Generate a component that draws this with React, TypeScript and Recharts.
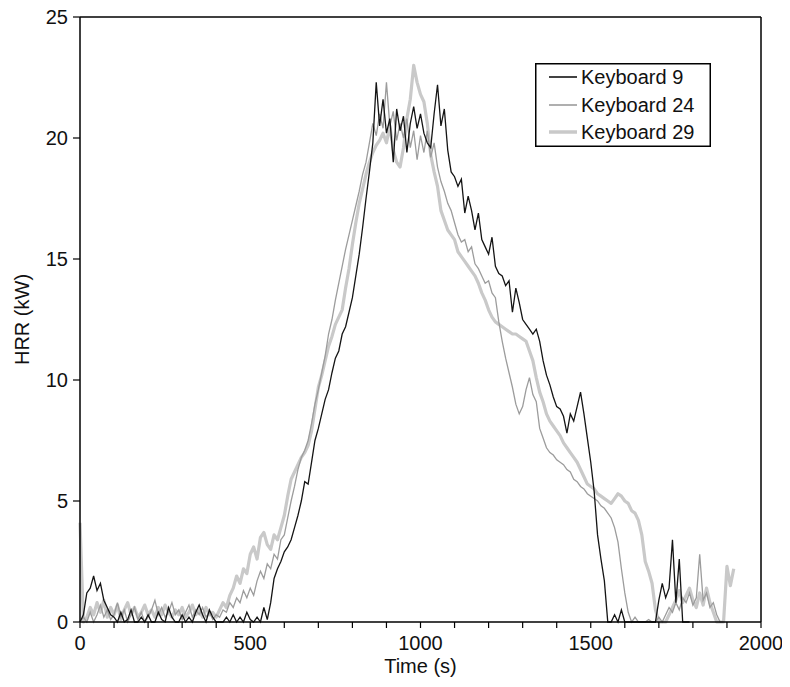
import React from 'react';
import { LineChart, Line, XAxis, YAxis, ReferenceLine, Label } from 'recharts';

// Time axis: one sample every 10 s, 0 .. 2000 s
const TIME_STEP = 10;
const X_TICKS = [0, 100, 200, 300, 400, 500, 600, 700, 800, 900, 1000, 1100, 1200, 1300, 1400, 1500, 1600, 1700, 1800, 1900, 2000];
const X_LABELED = [0, 500, 1000, 1500, 2000];
const Y_TICKS = [0, 5, 10, 15, 20, 25];

const SERIES_NAMES = ['Keyboard 9', 'Keyboard 24', 'Keyboard 29'];

// Keyboard 9 (black)
const keyboard9: (number | null)[] = [
  0, 0.3, 1.2, 1.4, 1.9, 1.3, 1.6, 0.9, 0.6, 0.3,
  0.2, 0, 0.4, 0, 0.1, 0.5, 0, 0, 0.2, 0,
  0.3, 0, 0, 0.4, 0.1, 0, 0.6, 0.2, 0, 0,
  0.3, 0, 0.2, 0, 0.4, 0.7, 0.3, 0, 0.5, 0.2,
  0, 0, 0, 0.2, 0, 0.3, 0, 0.2, 0, 0.4,
  0.1, 0, 0.2, 0, 0.6, 0.1, 0.8, 1.8, 2.2, 2.5,
  2.9, 3.1, 3.4, 3.9, 4.4, 5.0, 5.8, 5.7, 6.6, 7.5,
  8.0, 8.6, 9.2, 9.6, 10.3, 10.9, 11.2, 11.9, 12.2, 12.8,
  13.4, 14.3, 15.2, 16.3, 17.5, 18.6, 19.8, 22.3, 20.5, 21.6,
  20.2, 20.8, 19.0, 21.2, 20.3, 20.9, 19.4, 20.6, 21.3, 20.4,
  21.0, 20.2, 19.8, 19.6, 21.0, 22.2, 20.5, 21.2, 19.5, 18.6,
  18.4, 18.0, 18.3, 16.9, 17.6, 17.0, 16.2, 16.9, 15.8, 15.5,
  15.2, 15.9, 14.7, 14.4, 14.3, 13.9, 14.1, 12.8, 13.8, 13.2,
  12.5, 12.3, 12.1, 11.9, 12.1, 11.6, 10.8, 10.2, 9.8, 9.3,
  8.9, 8.8, 8.5, 7.8, 8.6, 8.3, 8.9, 9.5, 8.6, 7.6,
  6.6, 5.4, 3.6, 2.6, 1.7, 0, 0, 0.3, 0, 0.5,
  0, 0, 0, 0, 0, 0, 0, 0, 0, 0,
  0.9, 1.6, 1.0, 1.4, 3.4, 0.8, 2.6, 0, 0, 0,
];

// Keyboard 24 (medium grey)
const keyboard24: (number | null)[] = [
  0, 0.2, 0, 0.4, 0, 0.3, 0.7, 0.2, 0.5, 0.1,
  0.3, 0.8, 0.2, 0.5, 0, 0.3, 0.6, 0.1, 0.4, 0,
  0.2, 0.5, 0.9, 0.3, 0.6, 0.2, 0.4, 0.8, 0.3, 0.5,
  0.1, 0.4, 0.7, 0.2, 0.5, 0.3, 0.6, 0.2, 0.4, 0.1,
  0.3, 0.2, 0.5, 0.4, 0.8, 0.6, 1.0, 0.8, 1.3, 1.0,
  1.4, 1.1, 1.7, 2.1, 1.8, 2.4, 2.2, 2.8, 2.6, 3.4,
  3.6, 4.3, 5.0, 5.6, 6.3, 6.8, 7.1, 7.5, 8.2, 9.0,
  9.6, 10.3, 11.0, 11.9, 12.5, 13.3, 14.0, 14.7, 15.4, 16.0,
  16.6, 17.2, 17.8, 18.5, 19.0, 19.8, 20.6, 20.1, 21.0, 20.4,
  22.3, 20.5, 21.1, 19.9, 20.6, 20.0, 20.8, 19.6, 20.3, 19.1,
  20.1, 19.4, 20.3, 19.2, 19.8, 18.8, 18.2, 17.8, 17.3, 17.0,
  16.5, 16.0, 15.7, 15.8, 15.3, 15.5, 14.8, 14.6, 14.3, 14.0,
  14.1, 13.6, 13.4, 12.4, 11.6, 10.9, 10.3, 9.7, 9.0, 8.6,
  8.9, 9.6, 10.1, 9.4, 9.1, 8.0, 7.6, 7.2, 7.0, 6.9,
  6.7, 6.6, 6.5, 6.3, 6.2, 5.9, 5.8, 5.6, 5.5, 5.3,
  5.2, 5.1, 5.0, 4.8, 4.7, 4.5, 4.3, 3.9, 3.3, 2.2,
  1.2, 0.4, 0, 0.2, 0, 0, 0, 0.1, 0, 0,
  0.2, 0, 0.3, 0.6, 0.4, 0.8, 0.5, 1.0, 0.8, 1.2,
  0.7, 1.0, 2.8, 0.9, 1.2, 0.6, 0.8, 0.3, 0, 0,
];

// Keyboard 29 (light grey, thick)
const keyboard29: (number | null)[] = [
  4.1, 0, 0.2, 0.6, 0.3, 0.8, 0.4, 0.9, 0.2, 0.6,
  0.3, 0.7, 0.1, 0.5, 0.8, 0.3, 0.6, 0.2, 0.4, 0.7,
  0.3, 0.5, 0.2, 0.6, 0.3, 0.7, 0.4, 0.2, 0.5, 0.3,
  0.6, 0.2, 0.4, 0.7, 0.3, 0.5, 0.2, 0.6, 0.3, 0.4,
  0.2, 0.5, 0.8, 0.6, 1.1, 1.4, 1.9, 1.6, 2.2, 2.0,
  2.8, 3.1, 2.6, 3.5, 3.7, 3.2, 3.0, 3.6, 3.4, 3.9,
  4.4, 5.2, 5.9, 6.2, 6.5, 6.8, 7.0, 7.3, 7.9, 8.8,
  9.7, 10.2, 10.8, 11.4, 11.8, 12.3, 12.6, 12.9, 13.8, 14.6,
  15.6, 16.5, 17.3, 17.9, 18.5, 19.0, 19.4, 19.7, 19.9, 20.2,
  19.8, 20.5, 19.5, 19.0, 18.8, 19.6, 20.8, 21.6, 23.0, 22.3,
  21.8, 21.5, 20.6, 19.3, 18.6, 18.0, 17.0, 16.6, 16.2, 16.0,
  15.8, 15.3, 15.1, 14.9, 14.7, 14.5, 14.3, 14.0, 13.6, 13.3,
  12.9, 12.6, 12.4, 12.3, 12.2, 12.1, 12.0, 11.9, 11.9, 11.8,
  11.7, 11.6, 11.2, 10.8, 10.1, 9.5, 9.1, 8.6, 8.3, 8.1,
  7.9, 7.7, 7.4, 7.2, 7.0, 6.8, 6.6, 6.3, 6.0, 5.7,
  5.6, 5.5, 5.3, 5.2, 5.1, 5.0, 4.9, 5.1, 5.3, 5.2,
  5.0, 4.9, 4.6, 4.5, 4.2, 3.6, 2.5, 2.1, 1.6, 0.5,
  0, 0, 0, 0.3, 0.6, 0.9, 1.3, 0.8, 1.1, 1.4,
  0.9, 0.6, 1.2, 0.7, 1.4, 0.8, 0.4, 0, 0, 0,
  2.3, 1.5, 2.2,
];

const N_POINTS = 201;
const pick = (arr: (number | null)[], i: number) => (i < arr.length ? arr[i] : null);
const rows = Array.from({ length: N_POINTS }, (_, i) => ({
  t: i * TIME_STEP,
  k9: pick(keyboard9, i),
  k24: pick(keyboard24, i),
  k29: pick(keyboard29, i),
}));

const FONT = "'Liberation Sans', Arial, Helvetica, sans-serif";
const COLORS = { k9: '#141414', k24: '#9c9c9c', k29: '#c9c9c9' };
const WIDTHS = { k9: 1.3, k24: 1.3, k29: 3.2 };

const XLabel = (props: any) => {
  const vb = props.viewBox || { x: 72, y: 614, width: 681, height: 56 };
  return (
    <text x={vb.x + vb.width / 2} y={vb.y + 44} textAnchor="middle" dominantBaseline="central"
      fontFamily={FONT} fontSize={20} fill="#111">Time (s)</text>
  );
};

const YLabel = (props: any) => {
  const vb = props.viewBox || { x: 0, y: 9, width: 72, height: 605 };
  const cx = vb.x + 14;
  const cy = vb.y + vb.height / 2;
  return (
    <text x={cx} y={cy} textAnchor="middle" dominantBaseline="central" transform={`rotate(-90, ${cx}, ${cy})`}
      fontFamily={FONT} fontSize={20} fill="#111">HRR (kW)</text>
  );
};

const LegendBox = () => {
  const keys: ('k9' | 'k24' | 'k29')[] = ['k9', 'k24', 'k29'];
  const rowsY = [14, 42, 69];
  return (
    <svg width={176} height={84} style={{ position: 'absolute', left: 527, top: 55 }}>
      <rect x={0.75} y={0.75} width={174.5} height={82.5} fill="#fff" stroke="#000" strokeWidth={1.5} />
      {keys.map((k, i) => (
        <g key={k}>
          <line x1={14} x2={42} y1={rowsY[i]} y2={rowsY[i]} stroke={COLORS[k]} strokeWidth={WIDTHS[k] + 0.3} />
          <text x={46} y={rowsY[i]} dominantBaseline="central" fontFamily={FONT} fontSize={20} fill="#111">
            {SERIES_NAMES[i]}
          </text>
        </g>
      ))}
    </svg>
  );
};

export default function App() {
  return (
    <div style={{ position: 'relative', width: 774, height: 670 }}>
      <style>{`.recharts-surface { overflow: visible; }`}</style>
      <LineChart width={774} height={670} data={rows} margin={{ top: 9, right: 21, bottom: 0, left: 0 }}>
        <XAxis
          type="number"
          dataKey="t"
          domain={[0, 2000]}
          ticks={X_TICKS}
          interval={0}
          tickFormatter={(v: number) => (X_LABELED.includes(v) ? String(v) : '')}
          height={56}
          tickSize={6}
          tickMargin={8}
          axisLine={{ stroke: '#000', strokeWidth: 1.5 }}
          tickLine={{ stroke: '#000', strokeWidth: 1.2 }}
          tick={{ fill: '#111', fontSize: 20, fontFamily: FONT }}
        >
          <Label content={<XLabel />} />
        </XAxis>
        <YAxis
          type="number"
          domain={[0, 25]}
          ticks={Y_TICKS}
          interval={0}
          width={72}
          tickSize={7}
          tickMargin={5}
          axisLine={{ stroke: '#000', strokeWidth: 1.5 }}
          tickLine={{ stroke: '#000', strokeWidth: 1.2 }}
          tick={{ fill: '#111', fontSize: 20, fontFamily: FONT }}
        >
          <Label content={<YLabel />} />
        </YAxis>
        <ReferenceLine y={25} stroke="#000" strokeWidth={1.5} />
        <ReferenceLine x={2000} stroke="#000" strokeWidth={1.5} />
        <Line dataKey="k29" name={SERIES_NAMES[2]} stroke={COLORS.k29} strokeWidth={WIDTHS.k29} dot={false} isAnimationActive={false} strokeLinejoin="round" />
        <Line dataKey="k24" name={SERIES_NAMES[1]} stroke={COLORS.k24} strokeWidth={WIDTHS.k24} dot={false} isAnimationActive={false} />
        <Line dataKey="k9" name={SERIES_NAMES[0]} stroke={COLORS.k9} strokeWidth={WIDTHS.k9} dot={false} isAnimationActive={false} />
      </LineChart>
      <LegendBox />
    </div>
  );
}
